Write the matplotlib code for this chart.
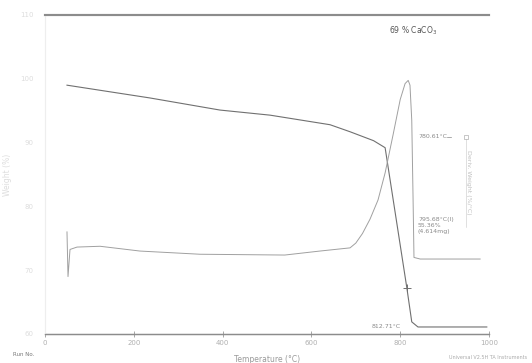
import matplotlib
matplotlib.use("Agg")
import matplotlib.pyplot as plt

# weight curve (TGA)
temp_w = [49.5, 124, 236, 394, 507, 642, 687, 740, 766, 815, 826, 840, 995]
weight = [99.0, 98.2, 97.0, 95.1, 94.3, 92.8, 91.7, 90.3, 89.2, 67.2, 61.9, 61.1, 61.1]

# derivative weight curve
temp_d = [49.5, 51.8, 56.3, 72.1, 124, 214, 349, 540, 619, 687, 700, 715, 732, 750,
          766, 784, 800, 811, 818, 822, 826, 829, 831, 845, 980]
deriv = [0.14, -0.14, 0.03, 0.045, 0.05, 0.02, 0.0, -0.005, 0.02, 0.04, 0.07, 0.13, 0.22,
         0.34, 0.51, 0.75, 0.97, 1.07, 1.09, 1.06, 0.84, 0.34, -0.02, -0.03, -0.03]

x_ticks = [0, 200, 400, 600, 800, 1000]
w_ticks = [60, 70, 80, 90, 100, 110]

fig = plt.figure(figsize=(5.32, 3.63), dpi=100)
ax = fig.add_axes([0.0846, 0.0799, 0.8346, 0.8788])
ax2 = ax.twinx()

ax.plot(temp_w, weight, color="#707070", linewidth=0.8)
ax.plot([815], [67.2], marker="+", color="#707070", markersize=6, mew=0.7)
ax2.plot(temp_d, deriv, color="#a0a0a0", linewidth=0.7)

ax.set_xlim(0, 1000)
ax.set_ylim(60, 110)
ax2.set_ylim(-0.5, 1.5)

ax.set_xticks(x_ticks)
ax.set_xticklabels([str(t) for t in x_ticks], fontsize=5, color="#b0b0b0")
ax.set_yticks(w_ticks)
ax.set_yticklabels([str(t) for t in w_ticks], fontsize=5, color="#dddddd")
ax.tick_params(axis="x", direction="inout", length=5, color="#999999", width=0.6, pad=2)
ax.tick_params(axis="y", direction="in", length=0, pad=8)
ax2.set_yticks([])

for a in (ax, ax2):
    a.spines["right"].set_visible(False)
    a.spines["left"].set_color("#eeeeee")
    a.spines["top"].set_color("#8c8c8c")
    a.spines["top"].set_linewidth(1.5)
    a.spines["bottom"].set_color("#8c8c8c")
    a.spines["bottom"].set_linewidth(0.9)

ax.set_xlabel("Temperature (°C)", fontsize=5.5, color="#9a9a9a", labelpad=6)
ax.set_ylabel("Weight (%)", fontsize=5.5, color="#dddddd", labelpad=6)

# annotations from the analysis software
ax.text(840, 90.9, "780.61°C", fontsize=4.5, color="#8a8a8a", va="center")
ax.plot([906, 914], [90.9, 90.9], color="#8a8a8a", linewidth=0.5)
ax.text(840, 78.3, "795.68°C(I)\n55.36%\n(4.614mg)", fontsize=4.5, color="#8a8a8a",
        va="top", linespacing=1.2)
ax.text(802, 61.1, "812.71°C", fontsize=4.5, color="#8a8a8a", va="center", ha="right")
ax.plot([948, 948], [90.6, 76.8], color="#c8c8c8", linewidth=0.4)
ax.plot([948], [90.8], marker="s", mfc="none", color="#b0b0b0", markersize=3, mew=0.5)
ax.text(954, 83.7, "Deriv. Weight (%/°C)", fontsize=4.5, color="#c0c0c0",
        rotation=270, va="center", ha="center")

ax.text(775, 107.5, "69 % CaCO$_3$", fontsize=5.5, color="#555555", va="center")

fig.text(0.025, 0.02, "Run No.", fontsize=4, color="#777777")
fig.text(0.99, 0.012, "Universal V2.5H TA Instruments", fontsize=3.5,
         color="#aaaaaa", ha="right")

fig.savefig("out.png", dpi=100, facecolor="white")
